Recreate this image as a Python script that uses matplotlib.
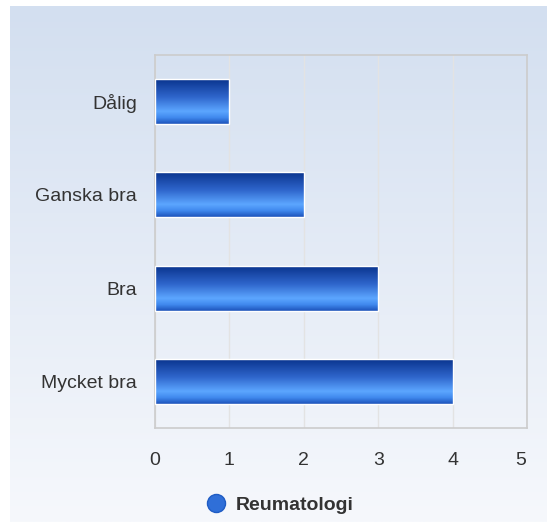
import numpy as np
import matplotlib.pyplot as plt
import matplotlib.transforms as mtransforms
from matplotlib.colors import LinearSegmentedColormap
from matplotlib.patches import Rectangle
from matplotlib.lines import Line2D

categories = ["Dålig", "Ganska bra", "Bra", "Mycket bra"]
values = [1, 2, 3, 4]
series_name = "Reumatologi"
x_ticks = [0, 1, 2, 3, 4, 5]

plt.rcParams["font.family"] = ["Liberation Sans", "DejaVu Sans"]

W, H = 547, 522
fig = plt.figure(figsize=(W / 100, H / 100), dpi=100)

# page background: white edge, then vertical blue-to-white gradient
bg = fig.add_axes([10 / W, 0, 1 - 10 / W, 1 - 6 / H], zorder=-10)
bg_cmap = LinearSegmentedColormap.from_list("bg", ["#d3dff0", "#f6f8fc"])
bg.imshow(np.linspace(0, 1, 256).reshape(-1, 1), cmap=bg_cmap, aspect="auto",
          extent=(0, 1, 0, 1))
bg.set_axis_off()

ax = fig.add_axes([155 / W, 1 - 428 / H, 372 / W, 373 / H])
ax.patch.set_alpha(0)

bar_cmap = LinearSegmentedColormap.from_list(
    "bar", [(0, "#0a348e"), (0.4, "#2f66cc"), (0.72, "#5ca6ff"), (0.86, "#4089ee"),
            (1, "#1c52ba")])
grad = np.linspace(0, 1, 128).reshape(-1, 1)
bar_h = 0.48
ypos = np.arange(len(categories))
for y, v in zip(ypos, values):
    ax.imshow(grad, cmap=bar_cmap, aspect="auto", interpolation="bilinear",
              extent=(0, v, y + bar_h / 2, y - bar_h / 2), zorder=3)
    ax.add_patch(Rectangle((0, y - bar_h / 2), v, bar_h, fill=False,
                           edgecolor="white", linewidth=1.0, zorder=4))

ax.set_xlim(0, 5)
ax.set_ylim(len(categories) - 0.5, -0.5)
ax.set_yticks(ypos)
ax.set_yticklabels(categories, fontsize=14, color="#333333")
ax.set_xticks(x_ticks)
ax.set_xticklabels([str(t) for t in x_ticks], fontsize=14, color="#333333")
ax.tick_params(axis="y", length=0, pad=13)
ax.tick_params(axis="x", length=0, pad=17.5)
ax.grid(axis="x", color="#e3e3e3", linewidth=1, zorder=0)
ax.set_axisbelow(True)
for s in ax.spines.values():
    s.set_color("#cccccc")
    s.set_linewidth(1.2)

# last x label pulled inside like the original
last = ax.get_xticklabels()[-1]
last.set_transform(last.get_transform() +
                   mtransforms.ScaledTranslation(-0.06, 0, fig.dpi_scale_trans))

handle = Line2D([], [], marker="o", linestyle="none", markersize=13,
                markerfacecolor="#2f6fd8", markeredgecolor="#1f5cc4")
fig.legend([handle], [series_name], loc="center", bbox_to_anchor=(275 / W, 1 - 505 / H),
           frameon=False, handletextpad=0.05, prop={"size": 14, "weight": "bold"},
           labelcolor="#333333")

fig.savefig("out.png", dpi=100)
